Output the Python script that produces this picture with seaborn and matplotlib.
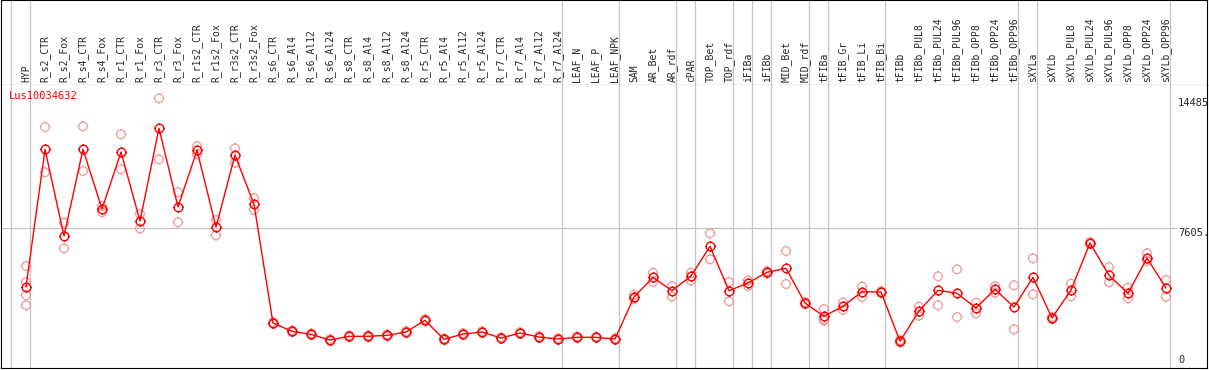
import numpy as np
import pandas as pd
import matplotlib
matplotlib.use("Agg")
import matplotlib.pyplot as plt
from matplotlib.path import Path
import seaborn as sns

# Sample names (column headers)
cats = ["HYP", "R_s2_CTR", "R_s2_Fox", "R_s4_CTR", "R_s4_Fox", "R_r1_CTR", "R_r1_Fox",
        "R_r3_CTR", "R_r3_Fox", "R_r1s2_CTR", "R_r1s2_Fox", "R_r3s2_CTR", "R_r3s2_Fox",
        "R_s6_CTR", "R_s6_Al4", "R_s6_Al12", "R_s6_Al24", "R_s8_CTR", "R_s8_Al4",
        "R_s8_Al12", "R_s8_Al24", "R_r5_CTR", "R_r5_Al4", "R_r5_Al12", "R_r5_Al24",
        "R_r7_CTR", "R_r7_Al4", "R_r7_Al12", "R_r7_Al24", "LEAF_N", "LEAF_P", "LEAF_NPK",
        "SAM", "AR_Bet", "AR_rdf", "cPAR", "TOP_Bet", "TOP_rdf", "iFIBa", "iFIBb",
        "MID_Bet", "MID_rdf", "tFIBa", "tFIB_Gr", "tFIB_Li", "tFIB_Bi", "tFIBb",
        "tFIBb_PUL8", "tFIBb_PUL24", "tFIBb_PUL96", "tFIBb_OPP8", "tFIBb_OPP24",
        "tFIBb_OPP96", "sXYLa", "sXYLb", "sXYLb_PUL8", "sXYLb_PUL24", "sXYLb_PUL96",
        "sXYLb_OPP8", "sXYLb_OPP24", "sXYLb_OPP96"]

# mean expression per sample
means = [4498, 11785, 7197, 11785, 8626, 11642, 7991, 12897, 8732, 11732, 7673, 11484, 8875,
         2593, 2154, 1995, 1693, 1889, 1889, 1942, 2117, 2736, 1730, 2011, 2117, 1799, 2064,
         1852, 1746, 1836, 1836, 1746,
         3969, 5011, 4302, 5080, 6652, 4302, 4710, 5276, 5488, 3651, 2948, 3477, 4249, 4234,
         1625, 3228, 4324, 4165, 3387, 4376, 3440, 5011, 2858, 4339, 6827, 5117, 4165, 6033,
         4445]

# replicate values per sample
reps = [[5610, 4763, 4059, 3530], [12965, 10568], [7901, 6546], [13002, 10637], [8785, 8451],
        [12579, 10727], [8361, 7583], [14485, 11256], [9510, 7922], [11944, 11537],
        [8044, 7234], [11838, 11076], [9208, 8573],
        [2640, 2550], [2200, 2110], [2040, 1950], [1740, 1650], [1930, 1850], [1940, 1840],
        [1990, 1890], [2160, 2070], [2790, 2680], [1780, 1680], [2060, 1960], [2160, 2070],
        [1840, 1760], [2110, 2020], [1900, 1800], [1790, 1700], [1880, 1790], [1870, 1800],
        [1790, 1700],
        [4075, 3860], [5255, 4763], [4551, 3985], [5255, 4832], [7340, 5964], [4763, 3741],
        [4850, 4551], [5340, 5210], [6403, 4657], [3710, 3590], [3334, 2715, 2789],
        [3281, 3672], [3969, 4530], [4190, 4280],
        [1560, 1690], [3456, 2979], [5064, 3530], [5435, 2911], [3667, 3106], [4535, 4197],
        [4588, 2260], [6017, 4112], [2920, 2800], [4673, 4006], [6880, 6770], [5557, 4747],
        [4461, 3900], [6282, 5874], [4869, 3985]]

# last sample index of each tissue group (separator drawn after it)
group_ends = [-1, 0, 28, 31, 34, 35, 37, 38, 39, 41, 42, 45, 52, 53, 60]
gene = "Lus10034632"
max_label, mid_label = 14485, 7605

pos = np.arange(len(cats))
df_mean = pd.DataFrame({"pos": pos, "val": means})
df_reps = pd.DataFrame([(i, v) for i, r in enumerate(reps) for v in r], columns=["pos", "val"])

sns.set_style("white")
plt.rcParams["font.family"] = ["DejaVu Sans Mono"]

# circle marker (polygon) with four tiny ticks
ang = np.linspace(0, 2 * np.pi, 33)
ring = np.column_stack([np.cos(ang), np.sin(ang)])
t = 1.25
verts = list(ring) + [[0, 1], [0, t], [0, -1], [0, -t], [1, 0], [t, 0], [-1, 0], [-t, 0]]
codes = [Path.MOVETO] + [Path.LINETO] * (len(ring) - 1) + [Path.MOVETO, Path.LINETO] * 4
mk = Path(verts, codes)

W, H = 1209, 370
fig = plt.figure(figsize=(W / 100, H / 100), dpi=100)
def rect(x0, y0, x1, y1):
    return [x0 / W, 1 - y1 / H, (x1 - x0) / W, (y1 - y0) / H]
ax_head = fig.add_axes(rect(1, 0, 1207, 85))
ax = fig.add_axes(rect(1, 85, 1207, 368))

xlim = ((1 - 26) / 19, (1207 - 26) / 19)
grey = "#c4c4c4"
for a in (ax_head, ax):
    a.set_xlim(*xlim)
    for k in group_ends:
        a.axvline(k + 0.23, color=grey, lw=0.9, zorder=0)
    a.set_xticks([])
    a.set_yticks([])
    for s in a.spines.values():
        s.set_color("black")
        s.set_linewidth(0.8)
ax.spines["top"].set_visible(False)
ax_head.set_ylim(0, 1)

for i, c in enumerate(cats):
    ax_head.text(i, 0.03, c, rotation=90, ha="center", va="bottom", fontsize=7)

ax.set_ylim(212, 15188)
ax.axhline(mid_label, xmin=0, xmax=(1176 - 1) / 1206, color=grey, lw=0.9, zorder=0)

sns.scatterplot(data=df_reps, x="pos", y="val", ax=ax, marker=mk, s=7.7 ** 2,
                facecolor="none", edgecolor="#f09a9a", linewidth=0.9, zorder=2)
sns.lineplot(data=df_mean, x="pos", y="val", ax=ax, color="red", lw=1,
             marker=mk, ms=7.7, mfc="none", mec="red", mew=1.0, zorder=3)
ax.set_xlabel("")
ax.set_ylabel("")
ax.set_xlim(*xlim)

xr = (1178 - 1) / 1206
ax.text(xr, max_label, str(max_label), transform=ax.get_yaxis_transform(),
        va="top", ha="left", fontsize=7.5)
ax.text(xr, mid_label, f"{mid_label}.", transform=ax.get_yaxis_transform(),
        va="top", ha="left", fontsize=7.5)
ax.text(xr, 0.01, "0", transform=ax.transAxes, va="bottom", ha="left", fontsize=7.5)
ax.text((9 - 1) / 1206, 1 - 6 / 283, gene, transform=ax.transAxes, va="top", ha="left",
        color="red", fontsize=7.5)

fig.savefig("out.png", dpi=100)
